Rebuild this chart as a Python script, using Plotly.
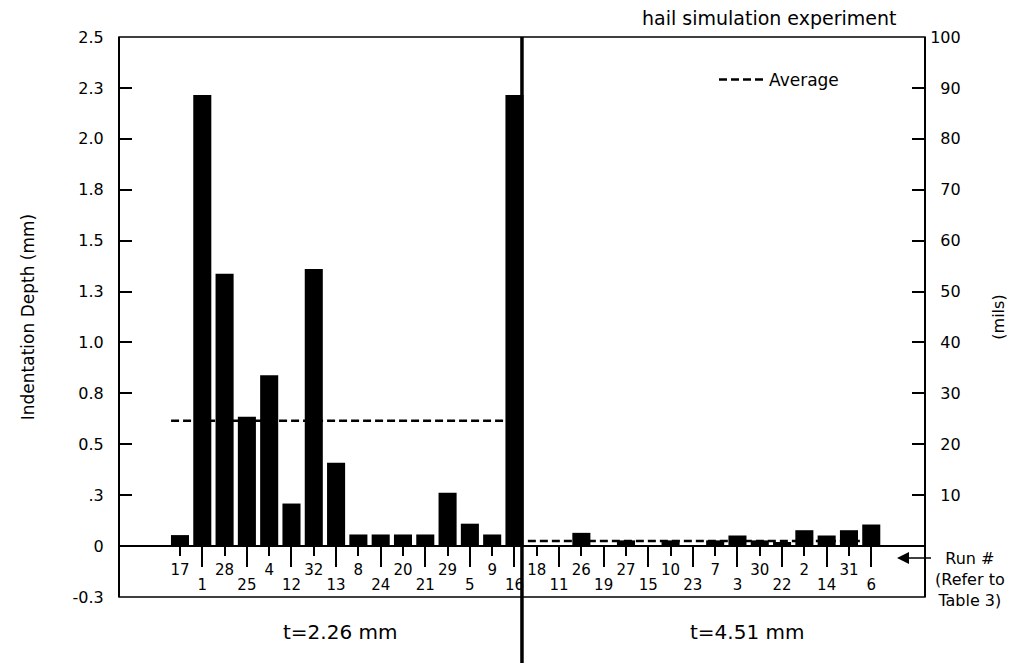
import plotly.graph_objects as go

# ---------------- data ----------------
runs = ["17", "1", "28", "25", "4", "12", "32", "13", "8", "24", "20", "21", "29", "5", "9", "16",
        "18", "11", "26", "19", "27", "15", "10", "23", "7", "3", "30", "22", "2", "14", "31", "6"]
depth_mm = [0.054, 2.215, 1.337, 0.635, 0.839, 0.209, 1.361, 0.409, 0.057, 0.057, 0.057, 0.057,
            0.262, 0.11, 0.057, 2.215,
            0.0, 0.0, 0.065, 0.0, 0.028, 0.0, 0.028, 0.0, 0.028, 0.052, 0.028, 0.02, 0.078,
            0.052, 0.078, 0.106]
avg_thin = 0.616      # t=2.26 mm average
avg_thick = 0.025     # t=4.51 mm average
avg_x_thin = [-0.4, 14.6]
avg_x_thick = [15.6, 31.3]
y_ticks_mm = [-0.25, 0, 0.25, 0.5, 0.75, 1.0, 1.25, 1.5, 1.75, 2.0, 2.25, 2.5]
y_ticktext_mm = ["-0.3", "0", ".3", "0.5", "0.8", "1.0", "1.3", "1.5", "1.8", "2.0", "2.3", "2.5"]
y_ticks_mils = [10, 20, 30, 40, 50, 60, 70, 80, 90, 100]
group_labels = ["t=2.26 mm", "t=4.51 mm"]

# ---------------- geometry ----------------
W, H = 1022, 667
ML, MR, MT, MB = 119, 97, 37, 70
PW, PH = W - ML - MR, H - MT - MB
XMIN, XMAX = -2.735, 33.41
YMIN, YMAX = -0.25, 2.5
FONT = "DejaVu Sans"


def px(xp):
    return (xp - ML) / PW


def py(yp):
    return (H - MB - yp) / PH


xpos = list(range(len(runs)))
base_pos = (0 - YMIN) / (YMAX - YMIN)
divider_x = 15.336
divider_paper = (divider_x - XMIN) / (XMAX - XMIN)

fig = go.Figure()
fig.add_trace(go.Bar(x=xpos, y=depth_mm, width=0.81, marker=dict(color="black", line=dict(width=0)),
                     showlegend=False, hoverinfo="skip"))
fig.add_trace(go.Scatter(x=avg_x_thin, y=[avg_thin, avg_thin], mode="lines", name="Average",
                         line=dict(color="black", width=2.5, dash="8px,4px"), showlegend=True))
fig.add_trace(go.Scatter(x=avg_x_thick, y=[avg_thick, avg_thick], mode="lines", name="Average",
                         line=dict(color="black", width=2.5, dash="8px,4px"), showlegend=False))
# carrier trace for the overlaid secondary axes
fig.add_trace(go.Scatter(x=[0], y=[0], xaxis="x2", yaxis="y2", mode="markers",
                         marker=dict(opacity=0), showlegend=False, hoverinfo="skip"))

even = xpos[0::2]
odd = xpos[1::2]

fig.update_layout(
    width=W, height=H,
    margin=dict(l=ML, r=MR, t=MT, b=MB),
    paper_bgcolor="white", plot_bgcolor="white",
    font=dict(family=FONT, color="black", size=16),
    xaxis=dict(range=[XMIN, XMAX], anchor="free", position=base_pos,
               tickvals=even, ticktext=[runs[i] for i in even],
               ticks="outside", ticklen=9, tickwidth=1.5, tickcolor="black",
               showline=True, linecolor="black", linewidth=2, showgrid=False, zeroline=False,
               tickfont=dict(size=15), ticklabelstandoff=1),
    xaxis2=dict(range=[XMIN, XMAX], overlaying="x", anchor="free", position=base_pos,
                tickvals=odd, ticktext=[runs[i] for i in odd],
                ticks="outside", ticklen=20, tickwidth=1.5, tickcolor="black",
                showline=False, showgrid=False, zeroline=False,
                tickfont=dict(size=15), ticklabelstandoff=5),
    yaxis=dict(range=[YMIN, YMAX], anchor="free", position=0,
               tickvals=y_ticks_mm, ticktext=y_ticktext_mm,
               ticks="inside", ticklen=12, tickwidth=1.5, tickcolor="black",
               showline=True, linecolor="black", linewidth=2, showgrid=False, zeroline=False,
               tickfont=dict(size=16), ticklabelstandoff=11,
               title=dict(text="Indentation Depth (mm)", font=dict(size=17), standoff=33)),
    yaxis2=dict(range=[-10, 100], overlaying="y", side="right", anchor="free", position=1,
                tickvals=y_ticks_mils,
                ticktext=[("\u2007" + str(v)) if v < 100 else str(v) for v in y_ticks_mils],
                ticks="inside", ticklen=12, tickwidth=1.5, tickcolor="black",
                showline=True, linecolor="black", linewidth=2, showgrid=False, zeroline=False,
                tickfont=dict(size=16), ticklabelstandoff=1,
                title=dict(text="(mils)", font=dict(size=16), standoff=32)),
    legend=dict(x=px(714), y=py(80), xanchor="left", yanchor="middle",
                bgcolor="rgba(0,0,0,0)", font=dict(size=17), itemwidth=45),
    shapes=[
        dict(type="rect", xref="paper", yref="paper", x0=0, y0=0, x1=1, y1=1,
             line=dict(color="black", width=1.5)),
        dict(type="line", xref="paper", yref="paper", x0=divider_paper, x1=divider_paper,
             y0=py(663), y1=1, line=dict(color="black", width=3.5)),
    ],
    annotations=[
        dict(text="hail simulation experiment", xref="paper", yref="paper", x=px(899), y=py(18),
             xanchor="right", yanchor="middle", showarrow=False, font=dict(size=19)),
        dict(text=group_labels[0], xref="paper", yref="paper", x=px(340), y=py(632),
             xanchor="center", yanchor="middle", showarrow=False, font=dict(size=20)),
        dict(text=group_labels[1], xref="paper", yref="paper", x=px(747), y=py(632),
             xanchor="center", yanchor="middle", showarrow=False, font=dict(size=20)),
        dict(text="Run #<br>(Refer to<br>Table 3)", xref="paper", yref="paper", x=px(970), y=py(579),
             xanchor="center", yanchor="middle", showarrow=False, align="center", font=dict(size=16)),
        dict(text=" ", xref="paper", yref="paper", x=px(897), y=py(558), ax=38, ay=0,
             showarrow=True, arrowhead=2, arrowsize=1.5, arrowwidth=1.6, arrowcolor="black",
             standoff=0, startstandoff=0),
    ],
)

fig.write_html("out.html")
